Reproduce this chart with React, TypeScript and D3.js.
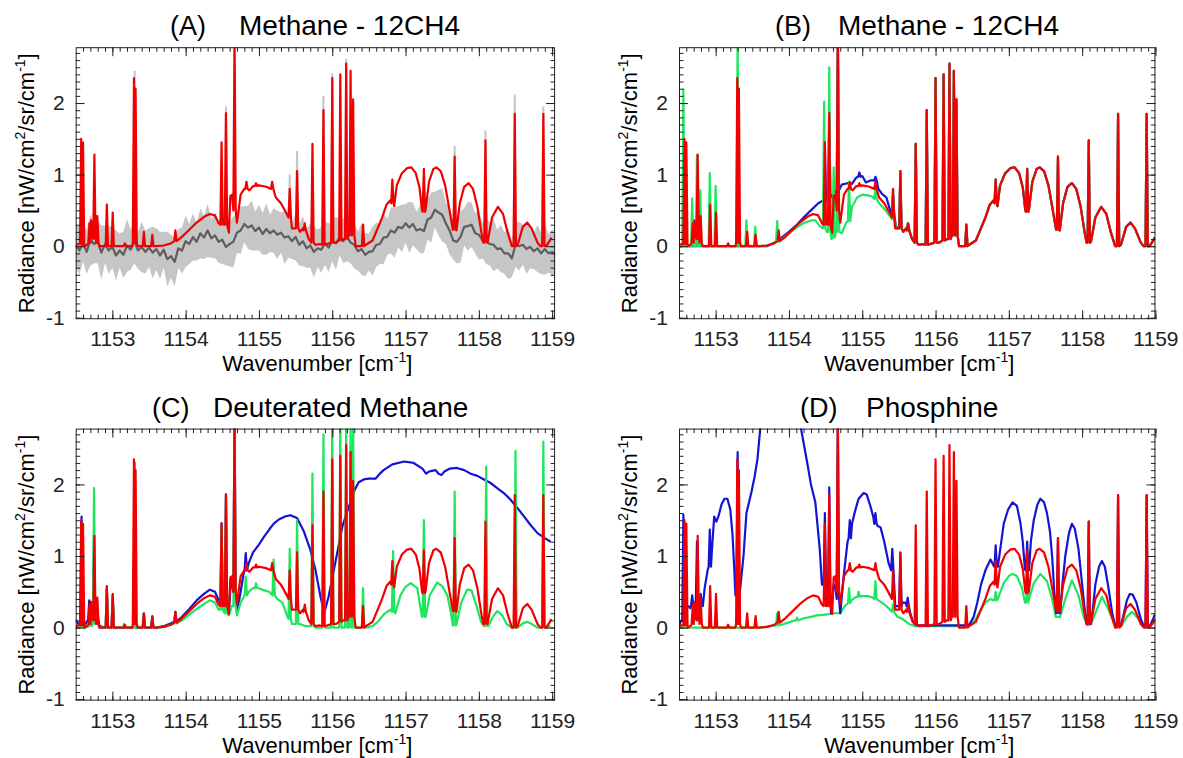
import * as d3 from "d3";
import { useRef, useEffect } from "react";

// a point is [wavenumber, radiance]; a narrow line is [wavenumber, peak, base]
type Pt = number[];

const FONT = "'Liberation Sans', Arial, Helvetica, sans-serif";
const RED = "#f00000";
const BLUE = "#1414d2";
const GREEN = "#1ee65f";
const BAND = "#c6c6c6";
const OBS = "#5e5e5e";

const xStart = 1152.5;
const yRange = [-1.02, 2.78];
const xTicks = [1153, 1154, 1155, 1156, 1157, 1158, 1159];
const yTicks = [-1, 0, 1, 2];

const panelTags = ["(A)", "(B)", "(C)", "(D)"];
const panelNames = ["Methane - 12CH4", "Methane - 12CH4", "Deuterated Methane", "Phosphine"];

// observed spectrum (panel A), sampled every 0.05 cm-1 from 1152.5
const obsStep = 0.05;
const obs = [
  0.02, -0.06, 0.04, -0.08, 0.09, 0.03, 0.06, -0.09, 0.03, -0.06,
  -0.01, -0.13, -0.06, -0.12, 0.01, -0.05, 0.07, -0.06, -0.01, -0.08,
  -0.02, -0.09, -0.04, -0.13, -0.05, -0.18, -0.14, -0.22, -0.03, -0.06,
  0.07, 0.03, 0.13, 0.06, 0.18, 0.12, 0.22, 0.11, 0.15, 0.06,
  0.09, -0.01, 0.03, 0.06, 0.19, 0.22, 0.31, 0.26, 0.29, 0.21,
  0.26, 0.17, 0.24, 0.18, 0.22, 0.16, 0.19, 0.12, 0.14, 0.07,
  0.13, 0.02, 0.07, -0.03, 0.01, -0.08, -0.03, -0.05, 0.04, -0.02,
  0.07, 0.04, 0.12, 0.07, 0.14, 0.05, 0.02, -0.07, -0.04, -0.12,
  -0.08, -0.07, 0.02, 0.03, 0.12, 0.13, 0.22, 0.19, 0.27, 0.25,
  0.32, 0.26, 0.31, 0.22, 0.24, 0.21, 0.37, 0.4, 0.51, 0.47,
  0.44, 0.32, 0.22, 0.08, 0.06, 0.13, 0.27, 0.28, 0.3, 0.18,
  0.16, 0.08, 0.07, 0.03, 0.02, -0.04, -0.03, -0.1, -0.1, -0.17,
  0.02, 0.0, 0.02, -0.04, -0.01, -0.07, -0.03, -0.1, -0.04, -0.1,
  -0.08, -0.12,
];
// 1-sigma noise of the observation
const obsErr = [
  0.28, 0.34, 0.25, 0.31, 0.36, 0.27, 0.3, 0.38, 0.26, 0.33,
  0.29, 0.35, 0.24, 0.32, 0.37, 0.28, 0.31, 0.26, 0.35, 0.3,
  0.27, 0.36, 0.29, 0.33, 0.25, 0.38, 0.3, 0.34, 0.27, 0.32,
  0.36, 0.28, 0.33, 0.26, 0.35, 0.3, 0.37, 0.27, 0.32, 0.29,
  0.34, 0.26, 0.31, 0.36, 0.28, 0.33, 0.25, 0.3, 0.35, 0.27,
  0.32, 0.29, 0.36, 0.26, 0.31, 0.34, 0.28, 0.37, 0.3, 0.25,
  0.33, 0.29, 0.35, 0.27, 0.31, 0.36, 0.26, 0.32, 0.3, 0.34,
  0.28, 0.37, 0.25, 0.31, 0.35, 0.29, 0.33, 0.27, 0.36, 0.3,
  0.26, 0.34, 0.31, 0.28, 0.37, 0.25, 0.32, 0.35, 0.29, 0.33,
  0.27, 0.36, 0.3, 0.26, 0.34, 0.31, 0.28, 0.35, 0.25, 0.32,
  0.37, 0.29, 0.33, 0.27, 0.3, 0.36, 0.26, 0.34, 0.31, 0.28,
  0.35, 0.25, 0.32, 0.3, 0.37, 0.27, 0.33, 0.29, 0.36, 0.26,
  0.31, 0.34, 0.28, 0.35, 0.3, 0.25, 0.33, 0.29, 0.36, 0.27,
  0.32, 0.3,
];
// emission lines seen in the observation noise envelope
const obsPeaks: Pt[] = [
  [1153.305, 2.45, 0], [1154.55, 1.95, 0], [1155.42, 1.0, 0], [1155.52, 1.33, 0],
  [1155.88, 2.1, 0], [1156.0, 2.42, 0], [1156.19, 2.62, 0], [1157.67, 1.4, 0],
  [1158.09, 1.62, 0], [1158.49, 2.12, 0], [1158.88, 1.95, 0],
];

// nominal model (red), same in every panel
const red: Pt[] = [
  [1152.5, 0.02], [1152.54, 0.03],
  [1152.575, 1.5, 0.03], [1152.6, 1.45, 0.03],
  [1152.625, 0.0], [1152.665, 0.03],
  [1152.688, 0.32, 0.05], [1152.71, 0.36, 0.12], [1152.732, 0.28, 0.12],
  [1152.755, 1.28, 0.1], [1152.775, 0.12],
  [1152.795, 0.42, 0.05], [1152.825, 0.0], [1152.9, 0.0],
  [1152.925, 0.58, 0.0], [1152.95, 0.0], [1152.98, 0.0],
  [1153.005, 0.47, 0.0], [1153.04, 0.0], [1153.15, 0.0],
  [1153.17, 0.04, 0.0], [1153.27, 0.0],
  [1153.295, 2.35, 0.05], [1153.317, 2.2, 0.05],
  [1153.345, 0.0], [1153.4, 0.0],
  [1153.43, 0.2, 0.0], [1153.5, 0.0],
  [1153.545, 0.16, 0.0], [1153.6, 0.0], [1153.7, 0.01], [1153.8, 0.04],
  [1153.86, 0.22, 0.07], [1153.95, 0.13], [1154.05, 0.23], [1154.15, 0.33], [1154.25, 0.41],
  [1154.33, 0.45], [1154.4, 0.43], [1154.45, 0.32],
  [1154.49, 1.45, 0.3], [1154.52, 0.35],
  [1154.55, 1.86, 0.3], [1154.59, 0.19], [1154.61, 0.7], [1154.635, 0.72],
  [1154.667, 2.95, 0.5], [1154.7, 0.33], [1154.75, 0.72], [1154.8, 0.8],
  [1154.83, 0.9, 0.8], [1154.87, 0.78], [1154.92, 0.84],
  [1154.96, 0.88, 0.84], [1155.0, 0.85], [1155.1, 0.83],
  [1155.18, 0.9, 0.8], [1155.23, 0.68], [1155.3, 0.6], [1155.38, 0.45],
  [1155.42, 0.8, 0.4], [1155.45, 0.25],
  [1155.52, 1.05, 0.25], [1155.56, 0.2], [1155.6, 0.25],
  [1155.625, 0.32, 0.22], [1155.68, 0.1],
  [1155.73, 1.43, 0.05], [1155.77, 0.02], [1155.83, 0.03],
  [1155.88, 1.9, 0.02], [1155.93, 0.03],
  [1156.0, 2.35, 0.05], [1156.05, 0.05],
  [1156.11, 2.4, 0.08], [1156.15, 0.1],
  [1156.19, 2.55, 0.1], [1156.22, 0.15],
  [1156.25, 2.45, 0.15],
  [1156.285, 2.05, 0.15], [1156.32, 0.0], [1156.38, 0.0],
  [1156.42, 0.3, 0.0], [1156.46, 0.02], [1156.55, 0.08], [1156.62, 0.25], [1156.68, 0.4],
  [1156.74, 0.58], [1156.79, 0.64],
  [1156.82, 0.93, 0.6], [1156.845, 0.56], [1156.88, 0.85], [1156.95, 1.02], [1157.02, 1.09],
  [1157.08, 1.1], [1157.14, 1.02], [1157.19, 0.82], [1157.225, 0.5],
  [1157.25, 1.08, 0.48], [1157.275, 0.52], [1157.32, 0.9], [1157.38, 1.08], [1157.42, 1.1],
  [1157.48, 1.05], [1157.54, 0.85], [1157.6, 0.5], [1157.645, 0.23],
  [1157.67, 1.25, 0.23], [1157.695, 0.22], [1157.74, 0.6], [1157.8, 0.83], [1157.86, 0.88],
  [1157.92, 0.8], [1157.98, 0.55], [1158.03, 0.22], [1158.06, 0.05],
  [1158.09, 1.48, 0.05], [1158.12, 0.06], [1158.18, 0.4], [1158.26, 0.55], [1158.33, 0.45],
  [1158.39, 0.2], [1158.45, 0.0],
  [1158.49, 1.85, 0.0], [1158.53, 0.02], [1158.6, 0.27], [1158.66, 0.33], [1158.72, 0.25],
  [1158.8, 0.05], [1158.84, 0.0],
  [1158.88, 1.85, 0.0], [1158.92, 0.0], [1158.97, 0.08], [1158.99, 0.12],
];

// panel B: the two 12CH4 alternatives differ only below 1155.45
const redTail = red.filter((p) => p[0] > 1155.46);
const blueB: Pt[] = [
  [1152.5, 0.0], [1152.54, 0.0],
  [1152.56, 0.05, 0.0], [1152.7, 0.0],
  [1152.76, 0.25, 0.0], [1152.8, 0.0], [1153.7, 0.0], [1153.8, 0.05], [1153.9, 0.12],
  [1154.0, 0.2], [1154.1, 0.29], [1154.2, 0.4], [1154.3, 0.5], [1154.4, 0.6], [1154.45, 0.63],
  [1154.49, 1.4, 0.63], [1154.52, 0.66],
  [1154.55, 1.8, 0.68], [1154.6, 0.72],
  [1154.667, 2.95, 0.78], [1154.72, 0.86], [1154.8, 0.88], [1154.86, 0.87], [1154.92, 0.96],
  [1154.96, 1.03, 0.97], [1155.0, 0.98], [1155.05, 0.89], [1155.12, 0.92],
  [1155.18, 0.97, 0.92], [1155.22, 0.8], [1155.27, 0.73], [1155.33, 0.68], [1155.38, 0.5],
  [1155.42, 0.72, 0.45], [1155.46, 0.27],
  ...redTail,
];
const greenB: Pt[] = [
  [1152.5, 0.0], [1152.53, 0.0],
  [1152.56, 2.19, 0.0], [1152.6, 0.0],
  [1152.68, 0.67, 0.0],
  [1152.745, 1.27, 0.0],
  [1152.79, 0.78, 0.0], [1152.85, 0.0],
  [1152.92, 1.02, 0.0],
  [1153.0, 0.84, 0.0], [1153.05, 0.0], [1153.27, 0.0],
  [1153.3, 2.95, 0.0], [1153.34, 0.0],
  [1153.42, 0.36, 0.0],
  [1153.54, 0.27, 0.0], [1153.6, 0.0], [1153.7, 0.01], [1153.8, 0.05],
  [1153.84, 0.35, 0.06], [1153.9, 0.1], [1154.0, 0.18], [1154.1, 0.26], [1154.2, 0.32],
  [1154.3, 0.36], [1154.36, 0.36], [1154.43, 0.27],
  [1154.48, 2.02, 0.25], [1154.515, 0.2],
  [1154.55, 2.5, 0.2], [1154.58, 0.1],
  [1154.61, 1.1, 0.12], [1154.64, 0.2],
  [1154.67, 2.95, 0.2], [1154.72, 0.18], [1154.78, 0.33],
  [1154.82, 0.9, 0.35], [1154.86, 0.55], [1154.93, 0.68], [1155.0, 0.72], [1155.08, 0.71],
  [1155.14, 0.69],
  [1155.18, 0.82, 0.66], [1155.23, 0.6], [1155.32, 0.5], [1155.39, 0.4],
  [1155.42, 0.78, 0.38], [1155.46, 0.25],
  ...redTail,
];

// panel C: deuterated methane
const blueC: Pt[] = [
  [1152.5, 0.11], [1152.54, 0.05],
  [1152.58, 1.55, 0.05], [1152.62, 0.03], [1152.66, 0.1],
  [1152.685, 0.38, 0.1], [1152.715, 0.25],
  [1152.75, 1.25, 0.2], [1152.77, 0.15],
  [1152.795, 0.2, 0.1], [1152.825, 0.02], [1152.9, 0.0],
  [1152.925, 0.55, 0.0], [1152.95, 0.0], [1152.98, 0.0],
  [1153.005, 0.45, 0.0], [1153.04, 0.0], [1153.27, 0.0],
  [1153.305, 2.3, 0.0], [1153.34, 0.0], [1153.4, 0.0],
  [1153.43, 0.2, 0.0], [1153.5, 0.0],
  [1153.545, 0.15, 0.0], [1153.6, 0.0], [1153.7, 0.02], [1153.8, 0.06],
  [1153.86, 0.22, 0.08], [1153.95, 0.15], [1154.05, 0.26], [1154.15, 0.38], [1154.25, 0.47],
  [1154.33, 0.53], [1154.4, 0.5], [1154.45, 0.38],
  [1154.49, 1.46, 0.35], [1154.52, 0.4],
  [1154.55, 1.86, 0.35], [1154.59, 0.22], [1154.62, 0.7],
  [1154.667, 2.95, 0.5], [1154.7, 0.22], [1154.75, 0.5], [1154.79, 0.75],
  [1154.82, 1.04, 0.8], [1154.86, 0.9], [1154.92, 1.05], [1155.0, 1.16], [1155.07, 1.27],
  [1155.14, 1.37], [1155.2, 1.45], [1155.27, 1.51], [1155.35, 1.55], [1155.43, 1.57],
  [1155.52, 1.53], [1155.61, 1.35], [1155.7, 1.09], [1155.77, 0.81], [1155.84, 0.43],
  [1155.89, 0.2], [1155.95, 0.43], [1156.05, 0.95], [1156.14, 1.42], [1156.23, 1.7],
  [1156.3, 1.91], [1156.36, 2.03], [1156.43, 2.07], [1156.5, 2.08], [1156.59, 2.08],
  [1156.64, 2.14], [1156.7, 2.2], [1156.82, 2.28], [1156.98, 2.32], [1157.11, 2.3],
  [1157.23, 2.22], [1157.28, 2.15], [1157.32, 2.18], [1157.36, 2.19], [1157.41, 2.2],
  [1157.45, 2.15], [1157.49, 2.13], [1157.53, 2.18], [1157.6, 2.22], [1157.7, 2.23],
  [1157.8, 2.2], [1157.89, 2.15], [1157.98, 2.12], [1158.07, 2.07], [1158.16, 2.02],
  [1158.25, 1.95], [1158.34, 1.88], [1158.43, 1.79], [1158.52, 1.68], [1158.61, 1.56],
  [1158.7, 1.44], [1158.8, 1.32], [1158.9, 1.25], [1158.98, 1.2],
];
const greenC: Pt[] = [
  [1152.5, 0.0], [1152.55, 0.0],
  [1152.58, 1.04, 0.0], [1152.62, 0.0],
  [1152.7, 0.3, 0.02],
  [1152.75, 1.95, 0.05],
  [1152.79, 0.4, 0.05], [1152.82, 0.0], [1152.9, 0.0],
  [1152.925, 0.55, 0.0], [1152.95, 0.0], [1152.98, 0.0],
  [1153.005, 0.45, 0.0], [1153.05, 0.0],
  [1153.16, 0.05, 0.0], [1153.25, 0.0],
  [1153.305, 2.3, 0.0], [1153.35, 0.0],
  [1153.43, 0.2, 0.0], [1153.5, 0.0],
  [1153.545, 0.15, 0.0], [1153.6, 0.0], [1153.7, 0.01], [1153.8, 0.04],
  [1153.86, 0.2, 0.06], [1153.95, 0.1], [1154.05, 0.18], [1154.15, 0.26], [1154.25, 0.33],
  [1154.33, 0.38], [1154.4, 0.35], [1154.45, 0.25],
  [1154.49, 1.4, 0.25], [1154.52, 0.22],
  [1154.55, 1.86, 0.2], [1154.59, 0.17], [1154.63, 0.3],
  [1154.667, 2.95, 0.3], [1154.7, 0.17], [1154.75, 0.35],
  [1154.82, 0.71, 0.45], [1154.86, 0.5], [1154.92, 0.55],
  [1154.96, 0.62, 0.55], [1155.0, 0.55], [1155.07, 0.52], [1155.14, 0.5],
  [1155.2, 0.95, 0.45], [1155.25, 0.4], [1155.32, 0.35], [1155.39, 0.15],
  [1155.42, 1.1, 0.12], [1155.45, 0.05],
  [1155.52, 1.5, 0.05], [1155.56, 0.05], [1155.64, 0.02],
  [1155.73, 2.15, 0.02], [1155.77, 0.0], [1155.83, 0.0],
  [1155.88, 2.7, 0.0], [1155.93, 0.0],
  [1156.0, 2.95, 0.0], [1156.05, 0.0],
  [1156.11, 2.95, 0.0], [1156.15, 0.0],
  [1156.19, 2.95, 0.0], [1156.22, 0.0],
  [1156.25, 2.95, 0.0],
  [1156.285, 2.95, 0.0], [1156.32, 0.0], [1156.38, 0.0],
  [1156.42, 0.55, 0.0], [1156.46, 0.0], [1156.55, 0.02], [1156.62, 0.08], [1156.7, 0.18],
  [1156.79, 0.25],
  [1156.83, 1.07, 0.22], [1156.86, 0.2], [1156.93, 0.45], [1157.0, 0.57], [1157.07, 0.62],
  [1157.16, 0.55], [1157.2, 0.3], [1157.225, 0.15],
  [1157.25, 1.5, 0.15], [1157.275, 0.15], [1157.33, 0.45], [1157.43, 0.63], [1157.5, 0.58],
  [1157.57, 0.45], [1157.62, 0.2], [1157.645, 0.03],
  [1157.67, 1.9, 0.03], [1157.695, 0.05], [1157.76, 0.35], [1157.84, 0.53], [1157.9, 0.52],
  [1157.97, 0.3], [1158.03, 0.08], [1158.07, 0.02],
  [1158.1, 2.25, 0.02], [1158.13, 0.02], [1158.19, 0.15], [1158.25, 0.23], [1158.32, 0.17],
  [1158.38, 0.05], [1158.45, 0.0],
  [1158.5, 2.47, 0.0], [1158.53, 0.0], [1158.6, 0.06], [1158.66, 0.08], [1158.72, 0.05],
  [1158.8, 0.0], [1158.84, 0.0],
  [1158.88, 2.6, 0.0], [1158.92, 0.0], [1158.98, 0.02],
];

// panel D: phosphine
const blueD: Pt[] = [
  [1152.5, 0.02], [1152.53, 0.1],
  [1152.56, 1.58, 0.1], [1152.59, 0.3], [1152.63, 0.3], [1152.655, 0.27],
  [1152.68, 0.45, 0.3], [1152.71, 0.3],
  [1152.745, 1.2, 0.3], [1152.77, 0.35],
  [1152.795, 0.47, 0.35], [1152.825, 0.3], [1152.85, 0.55], [1152.89, 0.8],
  [1152.92, 1.37, 0.85], [1152.95, 1.1], [1152.98, 1.55], [1153.01, 1.48], [1153.04, 1.56],
  [1153.08, 1.72], [1153.12, 1.8], [1153.16, 1.8], [1153.2, 1.65], [1153.23, 1.3],
  [1153.255, 0.8], [1153.27, 0.45],
  [1153.3, 2.45, 0.45], [1153.33, 0.5], [1153.38, 1.0], [1153.42, 1.6], [1153.49, 1.9],
  [1153.53, 2.1], [1153.57, 2.35], [1153.61, 2.8], [1153.65, 3.1], [1153.8, 3.6],
  [1154.0, 3.6], [1154.13, 3.0], [1154.17, 2.75], [1154.25, 2.3], [1154.3, 2.0],
  [1154.36, 1.75], [1154.42, 1.1], [1154.45, 0.6],
  [1154.49, 1.6, 0.6], [1154.52, 0.5],
  [1154.55, 1.96, 0.4], [1154.575, 0.2], [1154.61, 0.6], [1154.635, 0.55],
  [1154.667, 2.95, 0.4], [1154.7, 0.2], [1154.75, 0.75], [1154.8, 1.2],
  [1154.83, 1.5, 1.25], [1154.86, 1.45], [1154.9, 1.62], [1154.95, 1.8], [1155.02, 1.88],
  [1155.06, 1.86], [1155.11, 1.7], [1155.15, 1.55],
  [1155.18, 1.6, 1.45], [1155.21, 1.42], [1155.25, 1.4], [1155.3, 1.2], [1155.36, 0.9],
  [1155.41, 1.1, 0.8], [1155.45, 0.3],
  [1155.52, 1.04, 0.3], [1155.55, 0.35], [1155.59, 0.35],
  [1155.62, 0.42, 0.3], [1155.65, 0.22], [1155.69, 0.08], [1155.75, 0.03], [1156.4, 0.03],
  [1156.46, 0.04], [1156.52, 0.15], [1156.57, 0.35], [1156.62, 0.6], [1156.68, 0.8],
  [1156.75, 0.95], [1156.79, 0.87],
  [1156.82, 1.15, 0.85], [1156.85, 0.85], [1156.93, 1.45], [1156.99, 1.65], [1157.05, 1.75],
  [1157.11, 1.7], [1157.16, 1.45], [1157.19, 1.2], [1157.22, 0.81],
  [1157.25, 1.2, 0.8], [1157.275, 0.8], [1157.3, 1.2], [1157.34, 1.5], [1157.39, 1.72],
  [1157.43, 1.8], [1157.48, 1.75], [1157.52, 1.6], [1157.56, 1.35], [1157.59, 1.0],
  [1157.62, 0.5], [1157.645, 0.2],
  [1157.67, 1.25, 0.2], [1157.7, 0.2], [1157.73, 0.6], [1157.77, 1.0], [1157.82, 1.32],
  [1157.86, 1.45], [1157.9, 1.38], [1157.95, 1.1], [1158.0, 0.6], [1158.04, 0.2], [1158.06, 0.05],
  [1158.09, 1.48, 0.05], [1158.12, 0.05], [1158.15, 0.3], [1158.18, 0.6], [1158.23, 0.85],
  [1158.27, 0.93], [1158.31, 0.85], [1158.36, 0.55], [1158.41, 0.2], [1158.45, 0.03],
  [1158.49, 1.85, 0.03], [1158.53, 0.03], [1158.57, 0.2], [1158.61, 0.38], [1158.65, 0.47],
  [1158.69, 0.46], [1158.74, 0.35], [1158.8, 0.12], [1158.84, 0.02],
  [1158.88, 1.85, 0.02], [1158.92, 0.02], [1158.96, 0.1], [1158.99, 0.18],
];
const greenD: Pt[] = [
  [1152.5, 0.0], [1153.6, 0.0], [1153.75, 0.02],
  [1153.84, 0.2, 0.03], [1153.93, 0.05], [1154.05, 0.09],
  [1154.11, 0.14, 0.1], [1154.2, 0.13], [1154.3, 0.15], [1154.38, 0.17], [1154.5, 0.18],
  [1154.6, 0.2], [1154.65, 0.2], [1154.7, 0.2], [1154.76, 0.3],
  [1154.82, 0.55, 0.34], [1154.85, 0.38], [1154.9, 0.42],
  [1154.95, 0.5, 0.43], [1155.0, 0.44], [1155.08, 0.44], [1155.14, 0.42],
  [1155.18, 0.65, 0.4], [1155.22, 0.38], [1155.28, 0.34], [1155.33, 0.3], [1155.38, 0.25],
  [1155.42, 0.32, 0.22], [1155.48, 0.15], [1155.55, 0.12], [1155.64, 0.05], [1155.72, 0.02],
  [1156.4, 0.02], [1156.48, 0.05], [1156.55, 0.12], [1156.61, 0.24], [1156.68, 0.35],
  [1156.75, 0.4], [1156.795, 0.38],
  [1156.82, 0.5, 0.38], [1156.85, 0.4], [1156.93, 0.62], [1157.0, 0.72], [1157.05, 0.75],
  [1157.11, 0.72], [1157.18, 0.55], [1157.22, 0.35],
  [1157.25, 0.6, 0.35], [1157.275, 0.4], [1157.34, 0.62], [1157.43, 0.75], [1157.52, 0.65],
  [1157.59, 0.4], [1157.64, 0.15], [1157.7, 0.15], [1157.77, 0.4], [1157.86, 0.66],
  [1157.95, 0.45], [1158.02, 0.15], [1158.07, 0.03], [1158.12, 0.05], [1158.18, 0.2],
  [1158.27, 0.43], [1158.36, 0.25], [1158.45, 0.02], [1158.54, 0.03], [1158.61, 0.15],
  [1158.68, 0.22], [1158.77, 0.12], [1158.86, 0.0], [1158.94, 0.03], [1158.99, 0.08],
];

// page layout (px)
const PX_PER_CM = 73.3;
const PLOT_H = 272;
const panels = [
  { left: 75.7, top: 47.2, xEnd: 1159.04, tagX: 170, nameX: 239 },
  { left: 679, top: 47.2, xEnd: 1159.0, tagX: 775, nameX: 838 },
  { left: 75.7, top: 428.6, xEnd: 1159.04, tagX: 152, nameX: 213 },
  { left: 679, top: 428.6, xEnd: 1159.0, tagX: 800, nameX: 866 },
];
const panelSeries = [
  [{ data: red, color: RED }],
  [{ data: blueB, color: BLUE }, { data: greenB, color: GREEN }, { data: red, color: RED }],
  [{ data: blueC, color: BLUE }, { data: greenC, color: GREEN }, { data: red, color: RED }],
  [{ data: greenD, color: GREEN }, { data: blueD, color: BLUE }, { data: red, color: RED }],
];

const LINE_HW = 0.016; // half width of a drawn line, cm-1

const expand = (pts: Pt[]) => {
  const out: number[][] = [];
  pts.forEach((p) => {
    if (p.length === 3) {
      out.push([p[0] - LINE_HW, p[2]], [p[0], p[1]], [p[0] + LINE_HW, p[2]]);
    } else out.push(p);
  });
  return out;
};

const App = () => {
  const container = useRef<SVGSVGElement>(null);

  useEffect(() => {
    createChart();
  });

  const createChart = () => {
    const svg = d3.select(container.current);
    svg.selectAll("*").remove();

    panels.forEach((p, i) => {
      const width = (p.xEnd - xStart) * PX_PER_CM;
      const xScale = d3.scaleLinear().domain([xStart, p.xEnd]).range([p.left, p.left + width]);
      const yScale = d3.scaleLinear().domain(yRange).range([p.top + PLOT_H, p.top]);

      svg
        .append("clipPath")
        .attr("id", `clip-${i}`)
        .append("rect")
        .attr("x", p.left)
        .attr("y", p.top)
        .attr("width", width)
        .attr("height", PLOT_H);

      const plot_g = svg.append("g").attr("clip-path", `url(#clip-${i})`);

      const line = d3
        .line<number[]>()
        .x((d) => xScale(d[0]))
        .y((d) => yScale(d[1]));

      if (i === 0) {
        const band = d3
          .area<number>()
          .x((_, k) => xScale(xStart + k * obsStep))
          .y0((d, k) => yScale(d - obsErr[k]))
          .y1((d, k) => yScale(d + obsErr[k]));
        plot_g.append("path").attr("d", band(obs)).attr("fill", BAND);

        obsPeaks.forEach((pk) => {
          plot_g
            .append("path")
            .attr("d", line(expand([pk]))!)
            .attr("fill", BAND)
            .attr("stroke", BAND)
            .attr("stroke-width", 2);
        });

        plot_g
          .append("path")
          .attr("d", line(obs.map((v, k) => [xStart + k * obsStep, v])))
          .attr("fill", "none")
          .attr("stroke", OBS)
          .attr("stroke-width", 2.2)
          .attr("stroke-linejoin", "round");
      }

      panelSeries[i].forEach((s) => {
        plot_g
          .append("path")
          .attr("d", line(expand(s.data)))
          .attr("fill", "none")
          .attr("stroke", s.color)
          .attr("stroke-width", 2.2)
          .attr("stroke-linejoin", "round");
      });

      // axes, ticks pointing inward on all four sides
      const minorX = d3.range(11526, 11591).map((v) => v / 10).filter((v) => v <= p.xEnd);
      const minorY = d3.range(-10, 28).map((v) => v / 10);
      const bottom = p.top + PLOT_H;
      const right = p.left + width;

      const axes_g = svg.append("g").attr("font-family", FONT).attr("color", "#222");

      const addAxis = (axis: any, tx: number, ty: number) => {
        axes_g
          .append("g")
          .attr("transform", `translate(${tx},${ty})`)
          .call(axis)
          .call((g: any) => g.select(".domain").remove())
          .attr("font-family", FONT)
          .attr("font-size", 21);
      };
      const none = () => "";

      addAxis(d3.axisBottom(xScale).tickValues(minorX).tickSize(-4.5).tickFormat(none), 0, bottom);
      addAxis(d3.axisTop(xScale).tickValues(minorX).tickSize(-4.5).tickFormat(none), 0, p.top);
      addAxis(
        d3.axisBottom(xScale).tickValues(xTicks).tickSize(-9).tickPadding(12).tickFormat((d) => String(d)),
        0,
        bottom
      );
      addAxis(d3.axisTop(xScale).tickValues(xTicks).tickSize(-9).tickFormat(none), 0, p.top);
      addAxis(d3.axisLeft(yScale).tickValues(minorY).tickSize(-4.5).tickFormat(none), p.left, 0);
      addAxis(d3.axisRight(yScale).tickValues(minorY).tickSize(-4.5).tickFormat(none), right, 0);
      addAxis(
        d3.axisLeft(yScale).tickValues(yTicks).tickSize(-9).tickPadding(11).tickFormat((d) => String(d)),
        p.left,
        0
      );
      addAxis(d3.axisRight(yScale).tickValues(yTicks).tickSize(-9).tickFormat(none), right, 0);

      axes_g
        .append("rect")
        .attr("x", p.left + 0.5)
        .attr("y", p.top + 0.5)
        .attr("width", width - 1)
        .attr("height", PLOT_H - 1)
        .attr("fill", "none")
        .attr("stroke", "#222")
        .attr("stroke-width", 1);

      // titles
      svg
        .append("text")
        .attr("x", p.tagX)
        .attr("y", p.top - 12)
        .attr("font-family", FONT)
        .attr("font-size", 27)
        .text(panelTags[i]);
      svg
        .append("text")
        .attr("x", p.nameX)
        .attr("y", p.top - 12)
        .attr("font-family", FONT)
        .attr("font-size", 28)
        .text(panelNames[i]);

      // x label
      const xl = svg
        .append("text")
        .attr("x", p.left + width / 2 + 2)
        .attr("y", bottom + 52)
        .attr("text-anchor", "middle")
        .attr("font-family", FONT)
        .attr("font-size", 22);
      xl.append("tspan").text("Wavenumber [cm");
      xl.append("tspan").attr("dy", -9).attr("font-size", 14).text("-1");
      xl.append("tspan").attr("dy", 9).text("]");

      // y label
      const yl = svg
        .append("text")
        .attr("transform", `translate(${p.left - 42},${p.top + PLOT_H / 2}) rotate(-90)`)
        .attr("text-anchor", "middle")
        .attr("font-family", FONT)
        .attr("font-size", 22);
      yl.append("tspan").text("Radiance [nW/cm");
      yl.append("tspan").attr("dy", -9).attr("font-size", 14).text("2");
      yl.append("tspan").attr("dy", 9).text("/sr/cm");
      yl.append("tspan").attr("dy", -9).attr("font-size", 14).text("-1");
      yl.append("tspan").attr("dy", 9).text("]");
    });
  };

  return (
    <svg
      ref={container}
      width={1183}
      height={758}
      style={{ position: "absolute", left: 0, top: 0, background: "#fff" }}
    />
  );
};

export default App;
